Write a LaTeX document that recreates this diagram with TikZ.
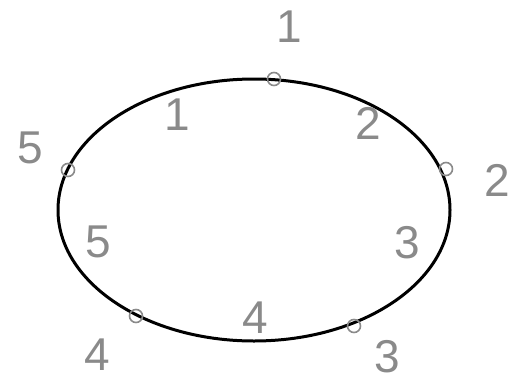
\documentclass[tikz,border=0pt]{standalone}
\usepackage{fontspec}
\setmainfont{Liberation Sans}
\definecolor{pen}{HTML}{8A8A8A}
\begin{document}
\begin{tikzpicture}[x=1pt,y=-1pt,
  lbl/.style={text=pen,font=\fontsize{46}{46}\selectfont,inner sep=0pt},
  dot/.style={circle,draw=pen,line width=1.6pt,minimum size=13pt,inner sep=0pt}]
\useasboundingbox (0,0) rectangle (513,383);
\draw[line width=3pt] (254,210) ellipse [x radius=196,y radius=131];
\node[dot] (d1) at (274,79) {};
\node[dot] (d5) at (68,170) {};
\node[dot] (d2) at (446,169) {};
\node[dot] (d4) at (136,316) {};
\node[dot] (d3) at (354,326) {};
\node[lbl] (o1) at (289,27) {1};
\node[lbl] (o5) at (30,148) {5};
\node[lbl] (o2) at (497,180) {2};
\node[lbl] (o4) at (97,355) {4};
\node[lbl] (o3) at (387,357) {3};
\node[lbl] (i1) at (177,115) {1};
\node[lbl] (i2) at (368,123) {2};
\node[lbl] (i3) at (407,243) {3};
\node[lbl] (i4) at (255,318) {4};
\node[lbl] (i5) at (98,242) {5};
\end{tikzpicture}
\end{document}
